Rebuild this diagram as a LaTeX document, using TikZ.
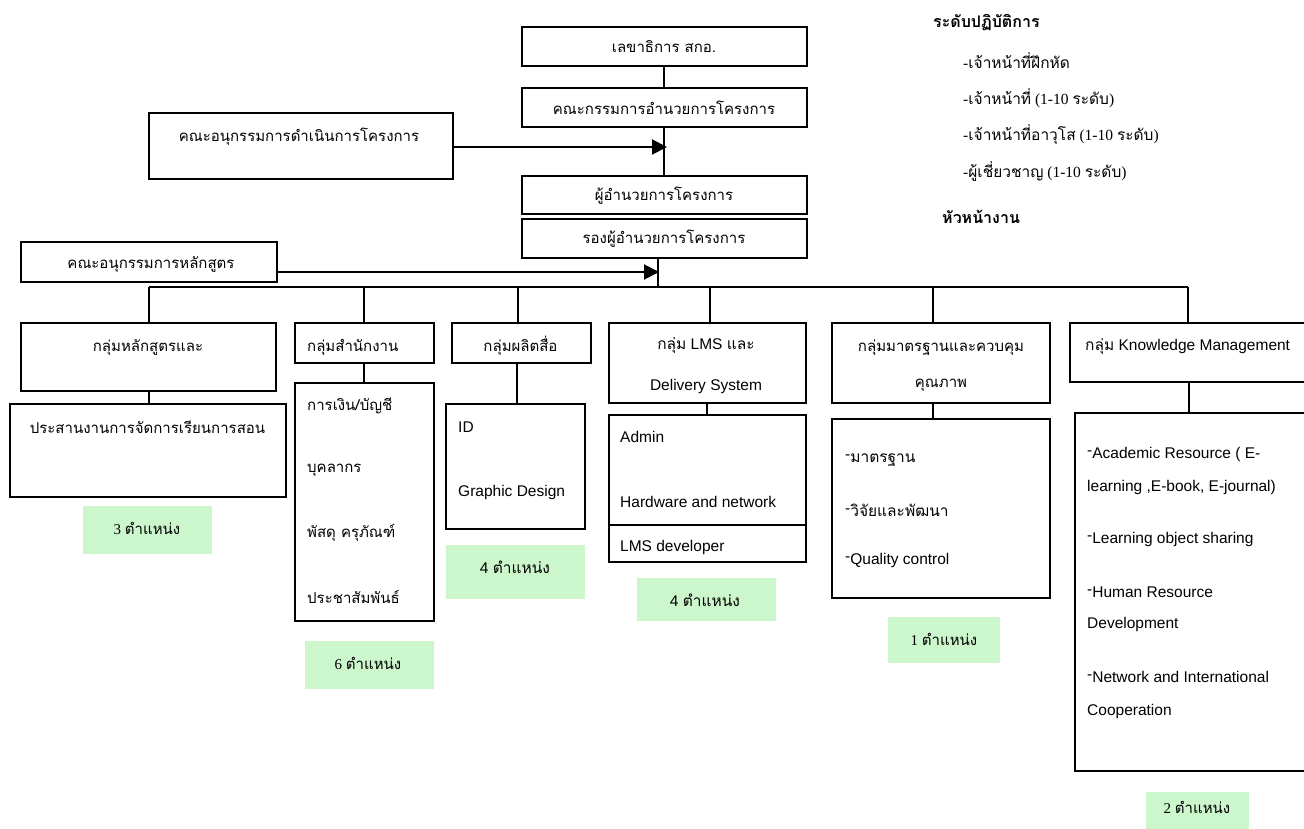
\documentclass[tikz,border=0pt]{standalone}
\usepackage{fontspec}
\setmainfont{Liberation Serif}
\newfontfamily\thai[Script=Thai]{Loma}
\newfontfamily\arial{Liberation Sans}
\usetikzlibrary{arrows.meta,calc}
\definecolor{lgreen}{RGB}{204,247,204}
\newcommand\thsz{\thai\fontsize{15}{18}\selectfont}
\newcommand\ensz{\arial\fontsize{15.5}{18}\selectfont}
\newcommand\sesz{\fontsize{15}{18}\selectfont}
\newcommand\lgsz{\fontsize{15.5}{18}\selectfont}
\newcommand\rdash{\raisebox{0.35ex}{-}}
\begin{document}
\begin{tikzpicture}[x=1pt,y=-1pt,
  box/.style={draw,line width=2pt,inner sep=0pt},
  gbox/.style={fill=lgreen,inner sep=0pt},
  th/.style={inner sep=0pt,font=\thsz},
  en/.style={inner sep=0pt,font=\ensz},
  se/.style={inner sep=0pt,font=\sesz},
  lg/.style={inner sep=0pt,font=\lgsz},
  wl/.style={anchor=west},
  ln/.style={line width=2pt},
  arr/.style={ln,-{Triangle[length=15pt,width=15pt]}}]
\useasboundingbox (0,0) rectangle (1304,829);
\clip (0,0) rectangle (1304,829);

% top chain
\node[box,minimum width=285pt,minimum height=39pt] (b1) at (664.5,46.5) {};
\node[box,minimum width=285pt,minimum height=39pt] (b2) at (664.5,107.5) {};
\node[box,minimum width=285pt,minimum height=38pt] (b3) at (664.5,195) {};
\node[box,minimum width=285pt,minimum height=39pt] (b4) at (664.5,238.5) {};
\node[th] (tb1) at (664,47) {เลขาธิการ สกอ.};
\node[th] (tb2) at (664,108) {คณะกรรมการอำนวยการโครงการ};
\node[th] (tb3) at (664,196) {ผู้อำนวยการโครงการ};
\node[th] (tb4) at (664,239) {รองผู้อำนวยการโครงการ};

\node[box,minimum width=304pt,minimum height=66pt] (c1) at (301,146) {};
\node[th] (tc1) at (299,137) {คณะอนุกรรมการดำเนินการโครงการ};
\node[box,minimum width=256pt,minimum height=40pt] (c2) at (149,262) {};
\node[th] (tc2) at (151,264) {คณะอนุกรรมการหลักสูตร};

\coordinate (v1) at (664,0);
\coordinate (j1) at (667,147);
\coordinate (j2) at (659,272);
\draw[ln] (v1 |- b1.south) -- (v1 |- b2.north);
\draw[ln] (v1 |- b2.south) -- (v1 |- b3.north);
\draw[arr] (c1.east |- j1) -- (j1);
\draw[arr] (c2.east |- j2) -- (j2);

% bus
\coordinate (d1) at (149,287);
\coordinate (d2) at (364,287);
\coordinate (d3) at (518,287);
\coordinate (d4) at (710,287);
\coordinate (d5) at (933,287);
\coordinate (d6) at (1188,287);
\draw[ln] (658,287 |- b4.south) -- (658,287);
\draw[ln] (d1) -- (d6);

% groups
\node[box,minimum width=255pt,minimum height=68pt] (g1) at (148.5,357) {};
\node[box,minimum width=139pt,minimum height=40pt] (g2) at (364.5,343) {};
\node[box,minimum width=139pt,minimum height=40pt] (g3) at (521.5,343) {};
\node[box,minimum width=197pt,minimum height=80pt] (g4) at (707.5,363) {};
\node[box,minimum width=218pt,minimum height=80pt] (g5) at (941,363) {};
\node[box,minimum width=250pt,minimum height=59pt] (g6) at (1195,352.5) {};
\foreach \d/\g in {d1/g1,d2/g2,d3/g3,d4/g4,d5/g5,d6/g6}
  \draw[ln] (\d) -- (\d |- \g.north);

\node[th] (tg1) at (148,347) {กลุ่มหลักสูตรและ};
\node[th,wl] (tg2) at (307,347) {กลุ่มสำนักงาน};
\node[th] (tg3) at (520.5,346) {กลุ่มผลิตสื่อ};
\node[en] (tg4a) at (706,346) {{\thai กลุ่ม} LMS {\thai และ}};
\node[en] (tg4b) at (706,386) {Delivery System};
\node[th] (tg5a) at (941,348) {กลุ่มมาตรฐานและควบคุม};
\node[th] (tg5b) at (941,385) {คุณภาพ};
\node[en,wl] (tg6) at (1085,347) {{\thai กลุ่ม} Knowledge Management};

% sub boxes
\node[box,minimum width=276pt,minimum height=93pt] (s1) at (148,450.5) {};
\node[box,minimum width=139pt,minimum height=238pt] (s2) at (364.5,502) {};
\node[box,minimum width=139pt,minimum height=125pt] (s3) at (515.5,466.5) {};
\node[box,minimum width=197pt,minimum height=110pt] (s4) at (707.5,470) {};
\node[box,minimum width=197pt,minimum height=37pt] (s4b) at (707.5,543.5) {};
\node[box,minimum width=218pt,minimum height=179pt] (s5) at (941,508.5) {};
\node[box,minimum width=240pt,minimum height=358pt] (s6) at (1195,592) {};

\draw[ln] (d1 |- g1.south) -- (d1 |- s1.north);
\draw[ln] (d2 |- g2.south) -- (d2 |- s2.north);
\draw[ln] (517,0 |- g3.south) -- (517,0 |- s3.north);
\draw[ln] (707,0 |- g4.south) -- (707,0 |- s4.north);
\draw[ln] (d5 |- g5.south) -- (d5 |- s5.north);
\draw[ln] (1189,0 |- g6.south) -- (1189,0 |- s6.north);

\node[th] (ts1) at (147.5,427) {ประสานงานการจัดการเรียนการสอน};
\node[th,wl] (ts2a) at (307,406) {การเงิน/บัญชี};
\node[th,wl] (ts2b) at (307,470) {บุคลากร};
\node[th,wl] (ts2c) at (307,533) {พัสดุ ครุภัณฑ์};
\node[th,wl] (ts2d) at (307,597) {ประชาสัมพันธ์};
\node[en,wl] (ts3a) at (458,427) {ID};
\node[en,wl] (ts3b) at (458,492) {Graphic Design};
\node[en,wl] (ts4a) at (620,437) {Admin};
\node[en,wl] (ts4b) at (620,502) {Hardware and network};
\node[en,wl] (ts4c) at (620,547) {LMS developer};
\node[en,wl] (ts5a) at (845,460) {\rdash{\thai มาตรฐาน}};
\node[en,wl] (ts5b) at (845,510) {\rdash{\thai วิจัยและพัฒนา}};
\node[en,wl] (ts5c) at (845,560) {\rdash Quality control};
\node[en,wl] (ts6a) at (1087,454) {\rdash Academic Resource ( E-};
\node[en,wl] (ts6b) at (1087,487) {learning ,E-book, E-journal)};
\node[en,wl] (ts6c) at (1087,539) {\rdash Learning object sharing};
\node[en,wl] (ts6d) at (1087,592) {\rdash Human Resource};
\node[en,wl] (ts6e) at (1087,624) {Development};
\node[en,wl] (ts6f) at (1087,677) {\rdash Network and International};
\node[en,wl] (ts6g) at (1087,711) {Cooperation};

% green labels
\node[gbox,minimum width=129pt,minimum height=48pt] (gr1) at (147.5,530) {};
\node[gbox,minimum width=129pt,minimum height=48pt] (gr2) at (369.5,665) {};
\node[gbox,minimum width=139pt,minimum height=54pt] (gr3) at (515.5,572) {};
\node[gbox,minimum width=139pt,minimum height=43pt] (gr4) at (706.5,599.5) {};
\node[gbox,minimum width=112pt,minimum height=46pt] (gr5) at (944,640) {};
\node[gbox,minimum width=103pt,minimum height=40pt] (gr6) at (1197.5,812) {};
\node[se] (tgr1) at (147,528) {3 {\thai ตำแหน่ง}};
\node[se] (tgr2) at (368,663) {6 {\thai ตำแหน่ง}};
\node[en] (tgr3) at (515,567) {4 {\thai ตำแหน่ง}};
\node[en] (tgr4) at (705,600) {4 {\thai ตำแหน่ง}};
\node[se] (tgr5) at (944,639) {1 {\thai ตำแหน่ง}};
\node[se] (tgr6) at (1197,807) {2 {\thai ตำแหน่ง}};

% legend
\node[wl,inner sep=0pt,font=\thai\fontsize{16}{19}\selectfont\bfseries] (h1) at (933,23) {ระดับปฏิบัติการ};
\node[lg,wl] (h1a) at (963,61) {-{\thai เจ้าหน้าที่ฝึกหัด}};
\node[lg,wl] (h1b) at (963,98) {-{\thai เจ้าหน้าที่} (1-10 {\thai ระดับ})};
\node[lg,wl] (h1c) at (963,135) {-{\thai เจ้าหน้าที่อาวุโส} (1-10 {\thai ระดับ})};
\node[lg,wl] (h1d) at (963,172) {-{\thai ผู้เชี่ยวชาญ} (1-10 {\thai ระดับ})};
\node[wl,inner sep=0pt,font=\thai\fontsize{16}{19}\selectfont\bfseries] (h2) at (942,217) {หัวหน้างาน};
\end{tikzpicture}
\end{document}
